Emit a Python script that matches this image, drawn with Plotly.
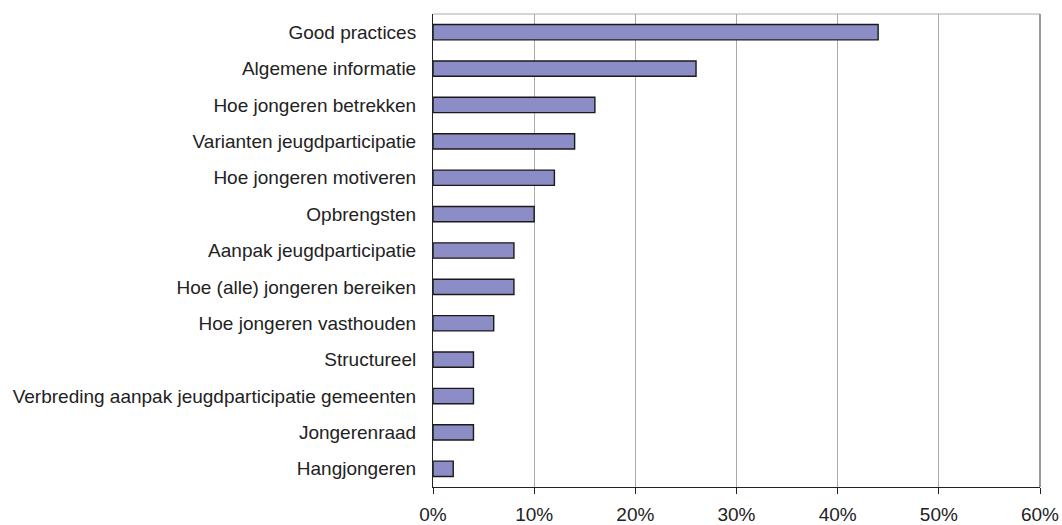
import plotly.graph_objects as go

categories = [
    "Good practices",
    "Algemene informatie",
    "Hoe jongeren betrekken",
    "Varianten jeugdparticipatie",
    "Hoe jongeren motiveren",
    "Opbrengsten",
    "Aanpak jeugdparticipatie",
    "Hoe (alle) jongeren bereiken",
    "Hoe jongeren vasthouden",
    "Structureel",
    "Verbreding aanpak jeugdparticipatie gemeenten",
    "Jongerenraad",
    "Hangjongeren",
]
values = [0.44, 0.26, 0.16, 0.14, 0.12, 0.10, 0.08, 0.08, 0.06, 0.04, 0.04, 0.04, 0.02]
x_ticks = [0, 0.1, 0.2, 0.3, 0.4, 0.5, 0.6]

fig = go.Figure()
fig.add_trace(go.Bar(
    y=categories,
    x=values,
    orientation='h',
    marker=dict(color='#8c8cc6', line=dict(color='#1a1a1a', width=1.4)),
    showlegend=False,
))

fig.update_layout(
    width=1062, height=525,
    margin=dict(l=433, r=22, t=14, b=38),
    plot_bgcolor='white',
    paper_bgcolor='white',
    bargap=0.58,
    font=dict(family="Liberation Sans, Arial, sans-serif", size=19, color="#222222"),
)
fig.update_xaxes(
    range=[0, 0.6],
    tickvals=x_ticks,
    tickformat='.0%',
    showgrid=True, gridcolor='#aaaaaa', gridwidth=1,
    showline=True, linecolor='#222222', linewidth=1,
    ticks='outside', ticklen=6, tickcolor='#222222',
    ticklabelstandoff=4,
    mirror=False, zeroline=False, automargin=False,
)
fig.update_yaxes(
    categoryorder='array', categoryarray=categories[::-1],
    showline=True, linecolor='#222222', linewidth=1,
    ticks='', ticklabelstandoff=12,
    showgrid=False, automargin=False,
)
# gray frame at top and right of plot area
fig.add_shape(type='line', xref='paper', yref='paper', x0=0, x1=1, y0=1, y1=1,
              line=dict(color='#aaaaaa', width=1))
fig.add_shape(type='line', xref='paper', yref='paper', x0=1, x1=1, y0=0, y1=1,
              line=dict(color='#999999', width=2))

# drop the default page margin so the figure fills the window exactly
fig.write_html(
    "out.html",
    config={'displayModeBar': False},
    post_script="document.body.style.margin='0';document.body.style.overflow='hidden';",
)
